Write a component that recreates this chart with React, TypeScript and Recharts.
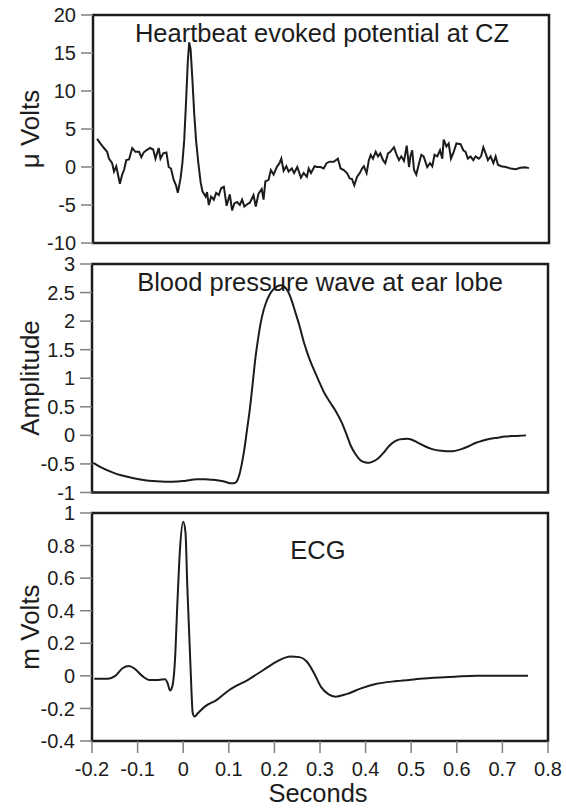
import React from 'react';
import { LineChart, Line, XAxis, YAxis, ReferenceArea } from 'recharts';

const FONT = '"Liberation Sans", Arial, Helvetica, sans-serif';
const INK = '#1c1c1c';
const TICK_LINE = '#808080';

// Tick labels
const secondsTicks = [-0.2, -0.1, 0, 0.1, 0.2, 0.3, 0.4, 0.5, 0.6, 0.7, 0.8];
const hepTicks = [-10, -5, 0, 5, 10, 15, 20];
const bpTicks = [-1, -0.5, 0, 0.5, 1, 1.5, 2, 2.5, 3];
const ecgTicks = [-0.4, -0.2, 0, 0.2, 0.4, 0.6, 0.8, 1];

// Heartbeat evoked potential at CZ (µV)
const hepTime = [
  -0.191, -0.184, -0.176, -0.169, -0.165, -0.158, -0.154, -0.149, -0.141, -0.136,
  -0.132, -0.127, -0.121, -0.114, -0.107, -0.099, -0.094, -0.089, -0.083, -0.075,
  -0.068, -0.063, -0.056, -0.052, -0.046, -0.039, -0.034, -0.029, -0.023, -0.018,
  -0.014, -0.008, -0.004, 0.0, 0.004, 0.008, 0.011, 0.014, 0.018, 0.022,
  0.026, 0.031, 0.036, 0.040, 0.047, 0.050, 0.054, 0.059, 0.065, 0.070,
  0.076, 0.081, 0.087, 0.093, 0.100, 0.105, 0.110, 0.116, 0.122, 0.127,
  0.132, 0.138, 0.144, 0.152, 0.157, 0.163, 0.170, 0.174, 0.178, 0.185,
  0.190, 0.196, 0.203, 0.209, 0.213, 0.218, 0.224, 0.229, 0.236, 0.241,
  0.248, 0.256, 0.262, 0.269, 0.273, 0.278, 0.286, 0.291, 0.299, 0.306,
  0.312, 0.319, 0.328, 0.337, 0.343, 0.350, 0.357, 0.363, 0.368, 0.373,
  0.379, 0.385, 0.390, 0.394, 0.400, 0.405, 0.409, 0.414, 0.420, 0.425,
  0.430, 0.436, 0.441, 0.447, 0.452, 0.460, 0.466, 0.471, 0.476, 0.482,
  0.488, 0.493, 0.496, 0.500, 0.504, 0.509, 0.515, 0.520, 0.525, 0.533,
  0.539, 0.544, 0.549, 0.555, 0.561, 0.566, 0.569, 0.575, 0.580, 0.585,
  0.591, 0.597, 0.606, 0.612, 0.617, 0.622, 0.628, 0.634, 0.639, 0.646,
  0.651, 0.656, 0.661, 0.666, 0.672, 0.678, 0.683, 0.688, 0.695, 0.705,
  0.716, 0.727, 0.737, 0.748, 0.756,
];
const hepValue = [
  3.7, 3.1, 2.5, 2.0, 1.1, 0.5, -0.6, 0.1, -2.2, -1.0,
  -0.4, 0.9, 1.0, 2.5, 2.0, 2.0, 1.3, 1.9, 2.2, 2.5,
  2.3, 1.1, 2.5, 1.1, 1.8, 1.9, 0.0, -0.2, -1.7, -2.4,
  -3.4, -1.5, 0.5, 3.5, 8.5, 14.0, 16.4, 15.5, 11.5, 7.0,
  3.5, 0.5, -2.0, -3.2, -3.9, -3.3, -5.0, -3.9, -4.3, -3.4,
  -3.7, -2.8, -2.6, -5.1, -3.6, -5.7, -4.8, -4.6, -5.0, -4.3,
  -5.2, -4.9, -4.7, -3.7, -5.2, -3.5, -2.9, -4.3, -1.9, -1.7,
  -0.4, -1.0, 0.0, 0.5, 1.1, -0.5, 0.1, -0.6, -0.2, -0.8,
  0.0, -1.4, -0.8, -1.3, -0.2, -0.8, 0.1, 0.0, 0.0, -0.2,
  0.5, 0.7, 0.7, 1.1, -0.2, -0.4, -0.8, -1.5, -1.6, -2.4,
  -1.3, -0.8, -0.2, 0.1, -0.8, 0.9, 1.6, 1.1, 2.0, 1.4,
  1.8, 0.9, 0.5, 1.8, 2.0, 2.6, 1.6, 0.9, 1.4, 0.8,
  2.8, 0.0, 1.4, 2.2, -0.4, -1.0, 0.5, 1.6, 1.4, 0.0,
  0.5, 0.1, 1.6, 1.4, 2.2, 1.1, 3.6, 2.7, 3.1, 1.1,
  2.0, 3.1, 3.0, 2.2, 2.0, 1.1, 1.4, 0.9, 1.4, 1.1,
  1.4, 2.6, 1.8, 0.9, 1.4, 0.5, 1.4, 0.3, 0.1, 0.0,
  -0.2, -0.3, -0.1, -0.05, -0.15,
];

// Blood pressure wave at ear lobe (amplitude)
const bpTime = [
  -0.197, -0.18, -0.151, -0.12, -0.103, -0.08, -0.064, -0.04, -0.024, 0.0,
  0.016, 0.03, 0.047, 0.06, 0.071, 0.085, 0.095, 0.105, 0.111, 0.117,
  0.122, 0.128, 0.134, 0.140, 0.146, 0.152, 0.158, 0.164, 0.170, 0.176,
  0.182, 0.190, 0.198, 0.206, 0.214, 0.222, 0.229, 0.237, 0.245, 0.255,
  0.265, 0.275, 0.285, 0.297, 0.309, 0.322, 0.335, 0.348, 0.358, 0.368,
  0.378, 0.388, 0.398, 0.408, 0.418, 0.428, 0.440, 0.451, 0.463, 0.475,
  0.491, 0.503, 0.515, 0.530, 0.546, 0.566, 0.586, 0.61, 0.626, 0.642,
  0.658, 0.673, 0.69, 0.705, 0.73, 0.752,
];
const bpValue = [
  -0.48, -0.56, -0.66, -0.73, -0.76, -0.79, -0.8, -0.81, -0.81, -0.8,
  -0.78, -0.77, -0.77, -0.775, -0.78, -0.8, -0.82, -0.84, -0.84, -0.81,
  -0.72, -0.52, -0.25, 0.1, 0.45, 0.88, 1.33, 1.68, 1.97, 2.18,
  2.33, 2.47, 2.56, 2.61, 2.63, 2.6, 2.53, 2.38, 2.18, 1.92,
  1.62, 1.38, 1.18, 0.96, 0.75, 0.58, 0.42, 0.22, 0.02, -0.19,
  -0.33, -0.43, -0.47, -0.48, -0.45, -0.4, -0.3, -0.19, -0.11, -0.07,
  -0.06, -0.08, -0.13, -0.19, -0.24, -0.27, -0.28, -0.24, -0.19, -0.13,
  -0.09, -0.06, -0.04, -0.02, -0.01, 0.0,
];

// ECG (mV)
const ecgTime = [
  -0.195, -0.165, -0.149, -0.133, -0.119, -0.106, -0.09, -0.074, -0.054, -0.04,
  -0.034, -0.029, -0.024, -0.018, -0.013, -0.007, 0.0, 0.005, 0.009, 0.016,
  0.021, 0.025, 0.032, 0.049, 0.073, 0.101, 0.144, 0.176, 0.208, 0.235,
  0.255, 0.271, 0.287, 0.303, 0.319, 0.334, 0.358, 0.39, 0.422, 0.469,
  0.509, 0.549, 0.596, 0.644, 0.707, 0.756,
];
const ecgValue = [
  -0.017, -0.017, 0.0, 0.047, 0.061, 0.043, 0.0, -0.025, -0.025, -0.021,
  -0.046, -0.09, -0.066, 0.098, 0.43, 0.78, 0.946, 0.88, 0.55, 0.057,
  -0.23, -0.25, -0.23, -0.186, -0.149, -0.087, -0.021, 0.036, 0.092, 0.119,
  0.115, 0.088, 0.016, -0.071, -0.114, -0.128, -0.112, -0.077, -0.05, -0.032,
  -0.021, -0.011, -0.005, 0.0, 0.0, 0.0,
];

const zip = (t: number[], v: number[]) => t.map((x, i) => ({ x, y: v[i] }));
const hepData = zip(hepTime, hepValue);
const bpData = zip(bpTime, bpValue);
const ecgData = zip(ecgTime, ecgValue);

const TITLE_SIZE = 25.5;
const YLABEL_SIZE = 26;

const textAt = (text: string, x: number, y: number, size = TITLE_SIZE) => () => (
  <text x={x} y={y} textAnchor="middle" fill={INK} fontSize={size} fontFamily={FONT}>
    {text}
  </text>
);

const yTitle = (text: string, cy: number) => () => {
  const cx = 39;
  return (
    <text
      x={cx}
      y={cy}
      transform={`rotate(-90 ${cx} ${cy})`}
      textAnchor="middle"
      fill={INK}
      fontSize={YLABEL_SIZE}
      fontFamily={FONT}
    >
      {text}
    </text>
  );
};

const tickStyle = { fill: INK, fontSize: 20, fontFamily: FONT };
const tickLineStyle = { stroke: TICK_LINE, strokeWidth: 1.5 };
const svgStyle = { overflow: 'visible' as const };

export default function App() {
  return (
    <div style={{ position: 'absolute', left: 0, top: 0, width: 566, height: 808, background: '#fff' }}>
      <div style={{ position: 'absolute', left: 0, top: 0 }}>
        <LineChart width={566} height={262} data={hepData} style={svgStyle} margin={{ top: 15, right: 17, bottom: 19, left: 0 }}>
          <XAxis type="number" dataKey="x" domain={[-0.2, 0.8]} hide />
          <YAxis
            type="number"
            domain={[-10, 20]}
            ticks={hepTicks}
            interval={0}
            width={93}
            axisLine={false}
            tickLine={tickLineStyle}
            tickSize={12}
            tickMargin={5}
            tick={tickStyle}
            allowDataOverflow
            label={{ content: yTitle('μ Volts', 129) }}
          />
          <Line type="linear" dataKey="y" stroke={INK} strokeWidth={2} dot={false} isAnimationActive={false} />
          <ReferenceArea
            x1={-0.2}
            x2={0.8}
            y1={-10}
            y2={20}
            fill="none"
            stroke={INK}
            strokeWidth={2.5}
            label={{ content: textAt('Heartbeat evoked potential at CZ', 322, 42) }}
          />
        </LineChart>
      </div>
      <div style={{ position: 'absolute', left: 0, top: 250 }}>
        <LineChart width={566} height={262} data={bpData} style={svgStyle} margin={{ top: 14, right: 18, bottom: 19.5, left: 0 }}>
          <XAxis type="number" dataKey="x" domain={[-0.2, 0.8]} hide />
          <YAxis
            type="number"
            domain={[-1, 3]}
            ticks={bpTicks}
            interval={0}
            width={92}
            axisLine={false}
            tickLine={tickLineStyle}
            tickSize={12}
            tickMargin={5}
            tick={tickStyle}
            allowDataOverflow
            label={{ content: yTitle('Amplitude', 128) }}
          />
          <Line type="monotone" dataKey="y" stroke={INK} strokeWidth={2} dot={false} isAnimationActive={false} />
          <ReferenceArea
            x1={-0.2}
            x2={0.8}
            y1={-1}
            y2={3}
            fill="none"
            stroke={INK}
            strokeWidth={2.5}
            label={{ content: textAt('Blood pressure wave at ear lobe', 320, 41) }}
          />
        </LineChart>
      </div>
      <div style={{ position: 'absolute', left: 0, top: 500 }}>
        <LineChart width={566} height={308} data={ecgData} style={svgStyle} margin={{ top: 13, right: 18, bottom: 0, left: 0 }}>
          <XAxis
            type="number"
            dataKey="x"
            domain={[-0.2, 0.8]}
            ticks={secondsTicks}
            interval={0}
            height={67}
            axisLine={false}
            tickLine={tickLineStyle}
            tickSize={12}
            tickMargin={9}
            tick={tickStyle}
            allowDataOverflow
            label={{ content: textAt('Seconds', 318, 302) }}
          />
          <YAxis
            type="number"
            domain={[-0.4, 1]}
            ticks={ecgTicks}
            interval={0}
            width={92}
            axisLine={false}
            tickLine={tickLineStyle}
            tickSize={12}
            tickMargin={5}
            tick={tickStyle}
            allowDataOverflow
            label={{ content: yTitle('m Volts', 127) }}
          />
          <Line type="monotone" dataKey="y" stroke={INK} strokeWidth={2} dot={false} isAnimationActive={false} />
          <ReferenceArea
            x1={-0.2}
            x2={0.8}
            y1={-0.4}
            y2={1}
            fill="none"
            stroke={INK}
            strokeWidth={2.5}
            label={{ content: textAt('ECG', 318, 59) }}
          />
        </LineChart>
      </div>
    </div>
  );
}
